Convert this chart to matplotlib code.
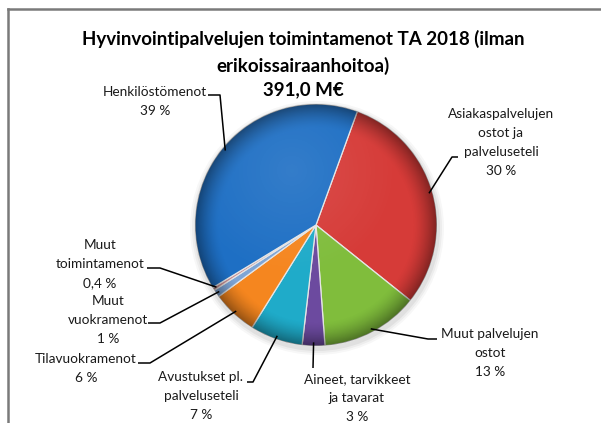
import numpy as np
import matplotlib
matplotlib.use("Agg")
import matplotlib.pyplot as plt
from matplotlib.patches import Circle

plt.rcParams['font.family'] = ['Lato', 'DejaVu Sans']

# --- data ---
categories = ['Asiakaspalvelujen\nostot ja\npalveluseteli', 'Muut palvelujen\nostot',
              'Aineet, tarvikkeet\nja tavarat', 'Avustukset pl.\npalveluseteli',
              'Tilavuokramenot', 'Muut\nvuokramenot', 'Muut\ntoimintamenot', 'Henkilöstömenot']
shares = [30, 13, 3, 7, 6, 1, 0.4, 39]
colors = ['#d63b38', '#80bd3c', '#6c4a9f', '#1fabc9', '#f5861f', '#7ea5d6', '#c98a8f', '#1e6fc4']
title = 'Hyvinvointipalvelujen toimintamenot TA 2018 (ilman\nerikoissairaanhoitoa)'
total = '391,0 M€'

W, H = 601, 423
def Y(yp):  # pixel row -> data y
    return H - yp

# label layout in pixels: text centre x, block centre y, elbow start, elbow corner
layout = [
    (501, 142, (458, 157), (452, 157)),
    (490, 353, (437, 339), (428, 339)),
    (357, 398, (313, 368), (313, 368)),
    (201, 396, (247, 382), (253, 382)),
    (86, 368, (138, 363), (150, 363)),
    (108, 320, (148, 323), (160, 323)),
    (100, 264, (147, 268), (160, 268)),
    (155, 101, (208, 95), (220, 95)),
]

fig = plt.figure(figsize=(W / 100, H / 100), dpi=100)
ax = fig.add_axes([0, 0, 1, 1])
ax.set_xlim(0, W); ax.set_ylim(0, H)
ax.set_aspect('equal')
ax.axis('off')

cx, cy, R = 316, Y(225), 121

# soft shadow
for k, a in [(6, 0.03), (4, 0.04), (2, 0.05)]:
    ax.add_patch(Circle((cx + 1, cy - 3), R + k, color='black', alpha=a, lw=0, zorder=1))

wedges, _ = ax.pie(shares, colors=colors, startangle=70, counterclock=False,
                   center=(cx, cy), radius=R, frame=True,
                   wedgeprops=dict(edgecolor='#e6e6e6', linewidth=0.9, zorder=2))
ax.set_xlim(0, W); ax.set_ylim(0, H)
ax.axis('off')

# bevel-like shading over the pie
n = 300
gx, gy = np.meshgrid(np.linspace(-1, 1, n), np.linspace(-1, 1, n))
rr = np.sqrt(gx ** 2 + gy ** 2)
shade = np.zeros((n, n, 4))
dark = np.clip((rr - 0.8) / 0.2, 0, 1) ** 1.5 * 0.4
light = np.clip(1 - np.sqrt((gx + 0.2) ** 2 + (gy - 0.45) ** 2) / 0.9, 0, 1) * 0.1
shade[..., :3] = (light / (light + dark + 1e-9))[..., None]
shade[..., 3] = np.clip(light + dark, 0, 1)
im = ax.imshow(shade, extent=(cx - R, cx + R, cy - R, cy + R), origin='lower',
               zorder=3, interpolation='bilinear')
im.set_clip_path(Circle((cx, cy), R, transform=ax.transData))

# labels with leader lines
for w, cat, v, (tx, ty, p0, p1) in zip(wedges, categories, shares, layout):
    mid = np.deg2rad((w.theta1 + w.theta2) / 2)
    ex, ey = cx + 0.97 * R * np.cos(mid), cy + 0.97 * R * np.sin(mid)
    ax.plot([p0[0], p1[0], ex], [Y(p0[1]), Y(p1[1]), ey], color='black', lw=1.1,
            solid_capstyle='butt', zorder=4)
    pct = f'{v:g}'.replace('.', ',') + ' %'
    ax.text(tx, Y(ty), cat + '\n' + pct, ha='center', va='center', multialignment='center',
            fontsize=9.8, linespacing=1.7, color='#1a1a1a', zorder=5)

ax.text(303, Y(52.5), title, ha='center', va='center', fontsize=13.5, fontweight='bold',
        linespacing=1.65)
ax.text(303, Y(90), total, ha='center', va='center', fontsize=13.5, fontweight='bold')

# chart frame (top and left edges visible)
ax.plot([8, W], [Y(9), Y(9)], color='#7a7a7a', lw=1.8, zorder=6)
ax.plot([8, 8], [Y(9), 0], color='#7a7a7a', lw=1.8, zorder=6)

fig.savefig('out.png', dpi=100)
